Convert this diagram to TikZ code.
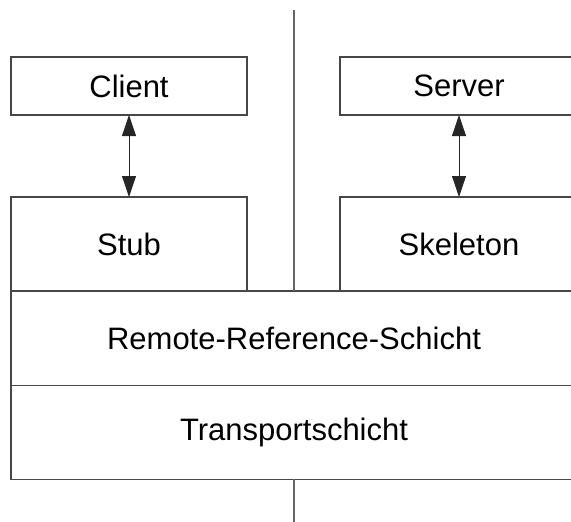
\documentclass[tikz,border=0pt]{standalone}
\usepackage{fontspec}
\setmainfont{Liberation Sans}
\usetikzlibrary{arrows.meta}
\begin{document}
\begin{tikzpicture}[x=1pt,y=-1pt,
  box/.style={draw=black!72, line width=1.1pt, rectangle, inner sep=0pt, outer sep=0pt,
    font=\fontsize{31}{36}\selectfont},
  link/.style={draw=black!85, line width=0.8pt,
    {Triangle[length=21pt,width=14pt]}-{Triangle[length=21pt,width=14pt]}},
  sepline/.style={draw=black!60, line width=1.3pt}]
\useasboundingbox (0,0) rectangle (571,522);
\clip (0,0) rectangle (571,522);
\node[box, minimum width=236, minimum height=58] (client) at (129,86) {Client};
\node[box, minimum width=238, minimum height=58] (server) at (459,86) {Server};
\node[box, minimum width=236, minimum height=94] (stub) at (129,244) {Stub};
\node[box, minimum width=238, minimum height=94] (skeleton) at (459,244) {Skeleton};
\node[box, minimum width=566, minimum height=94.7] (remote) at (294,338.35) {Remote-Reference-Schicht};
\node[box, minimum width=566, minimum height=93.6] (transport) at (294,432.5) {Transportschicht};
\draw[link] (client.south) -- (stub.north);
\draw[link] (server.south) -- (skeleton.north);
\coordinate (top) at (294,10);
\coordinate (bot) at (294,522);
\draw[sepline] (top) -- (top |- remote.north);
\draw[sepline] (transport.south) -- (bot);
\end{tikzpicture}
\end{document}
